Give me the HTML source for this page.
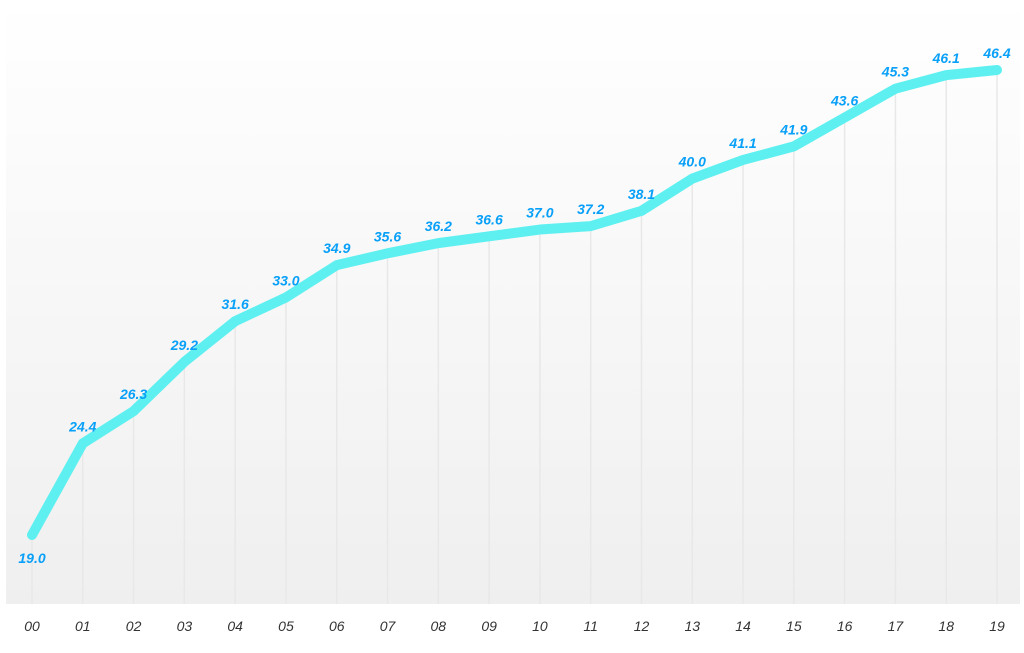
<!DOCTYPE html><html><head><style>body{margin:0;background:#fff}svg{display:block}</style></head><body>
<svg width="1024" height="653" xmlns="http://www.w3.org/2000/svg" font-family="Liberation Sans, sans-serif">
<defs><linearGradient id="g" x1="0" y1="0" x2="0" y2="1"><stop offset="0" stop-color="#ffffff"/><stop offset="1" stop-color="#efefef"/></linearGradient></defs>
<rect x="6" y="0" width="1014" height="604" fill="url(#g)"/>
<g id="grid" stroke="#e8e8e8" stroke-width="1.5"></g>
<polyline id="line" fill="none" stroke="#5ef0f0" stroke-width="10" stroke-linejoin="round" stroke-linecap="round"/>
<g id="lbl" font-size="14" font-style="italic" font-weight="bold" fill="#08a0f8" text-anchor="middle"></g>
<g id="xl" font-size="14" font-style="italic" fill="#333" text-anchor="middle"></g>
</svg>
<script>
var v=[19.0,24.4,26.3,29.2,31.6,33.0,34.9,35.6,36.2,36.6,37.0,37.2,38.1,40.0,41.1,41.9,43.6,45.3,46.1,46.4];
var ns="http://www.w3.org/2000/svg",pts=[];
function el(t,a,p,txt){var e=document.createElementNS(ns,t);for(var k in a)e.setAttribute(k,a[k]);if(txt)e.textContent=txt;document.getElementById(p).appendChild(e);}
v.forEach(function(d,i){var x=32+i*50.79,y=535-(d-19)*16.97;pts.push(x+","+y);
el("line",{x1:x,y1:y,x2:x,y2:604},"grid");
el("text",{x:x,y:i==0?y+28:y-12},"lbl",d.toFixed(1));
el("text",{x:x,y:631},"xl",(i<10?"0":"")+i);});
document.getElementById("line").setAttribute("points",pts.join(" "));
</script>
</body></html>
